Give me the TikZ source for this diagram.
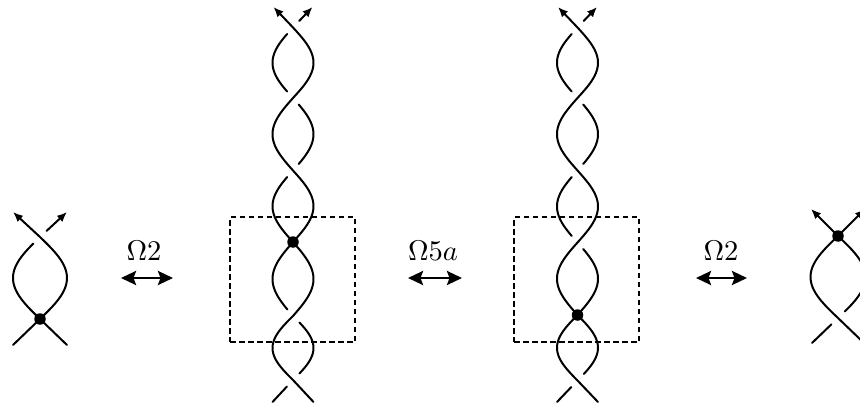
\documentclass[tikz,border=0pt]{standalone}
\usetikzlibrary{arrows.meta}
\tikzset{
  strand/.style={line width=2pt, line cap=round, line join=round},
  tipped/.style={-{Latex[length=10pt,width=8.5pt]}},
  bigarrow/.style={line width=2.6pt, {Stealth[length=15pt,width=14pt,inset=2.5pt]}-{Stealth[length=15pt,width=14pt,inset=2.5pt]}},
  vertex/.style={circle, fill=black, inner sep=0pt, minimum size=11.5pt},
  movebox/.style={draw, line width=1.5pt, dash pattern=on 5.5pt off 3.5pt, minimum width=125pt, minimum height=125pt, inner sep=0pt},
  movelabel/.style={anchor=base, inner sep=0pt}
}
\newcommand\brlobe[6]{%
  \pgfmathsetmacro\brlobeA{#2+#5}%
  \pgfmathsetmacro\brlobeB{#3-#6}%
  \draw[strand] plot[domain=\brlobeA:\brlobeB, samples=30, smooth, variable=\t]
    ({#1+(#4)*sin(180*(\t-#2)/(#3-#2))}, \t);%
}
\newcommand\movetext[1]{\scalebox{2.85}{$#1$}}
\begin{document}
\begin{tikzpicture}[x=1pt, y=-1pt]
\useasboundingbox (0,0) rectangle (860,404);
\clip (0,0) rectangle (860,404);

% ---------- diagram 1 ----------
\coordinate (p1c) at (40,237);
\coordinate (p1d) at (40,319);
\coordinate (p1tl) at (13,212);
\coordinate (p1tr) at (67,212);
\coordinate (p1bl) at (13,345);
\coordinate (p1br) at (67,345);
\brlobe{40}{237}{319}{27}{0}{0}
\brlobe{40}{237}{319}{-27}{6.5}{0}
\draw[strand,tipped] (p1c) -- (p1tl);
\draw[strand,tipped,shorten <=9pt] (p1c) -- (p1tr);
\draw[strand] (p1d) -- (p1bl);
\draw[strand] (p1d) -- (p1br);
\node[vertex] (v1) at (p1d) {};

% ---------- diagram 2 ----------
\node[movebox] (box2) at (292.5,279.5) {};
\coordinate (p2c1) at (293,27.5);
\coordinate (p2c6) at (293,380);
\coordinate (p2d) at (293,242);
\coordinate (p2tl) at (273.5,7);
\coordinate (p2tr) at (312.5,7);
\coordinate (p2bl) at (272.5,402);
\coordinate (p2br) at (313.5,402);
% strand A
\draw[strand,tipped,shorten <=9pt] (p2c1) -- (p2tr);
\brlobe{293}{27.5}{98}{-20.5}{6.5}{6.5}
\brlobe{293}{98}{170.5}{20.5}{6.5}{6.5}
\brlobe{293}{170.5}{242}{-20.5}{6.5}{0}
\brlobe{293}{242}{316}{20.5}{0}{0}
\brlobe{293}{316}{380}{-20.5}{0}{0}
\draw[strand] (p2c6) -- (p2br);
% strand B
\draw[strand,tipped] (p2c1) -- (p2tl);
\brlobe{293}{27.5}{98}{20.5}{0}{0}
\brlobe{293}{98}{170.5}{-20.5}{0}{0}
\brlobe{293}{170.5}{242}{20.5}{0}{0}
\brlobe{293}{242}{316}{-20.5}{0}{6.5}
\brlobe{293}{316}{380}{20.5}{6.5}{6.5}
\draw[strand,shorten <=9pt] (p2c6) -- (p2bl);
\node[vertex] (v2) at (p2d) {};

% ---------- diagram 3 ----------
\node[movebox] (box3) at (576.5,279.5) {};
\coordinate (p3c1) at (577.5,27.5);
\coordinate (p3c6) at (577.5,380.5);
\coordinate (p3d) at (577.5,315);
\coordinate (p3tl) at (558,7);
\coordinate (p3tr) at (597,7);
\coordinate (p3bl) at (557,402);
\coordinate (p3br) at (598,402);
% strand A
\draw[strand,tipped,shorten <=9pt] (p3c1) -- (p3tr);
\brlobe{577.5}{27.5}{98}{-20.5}{6.5}{6.5}
\brlobe{577.5}{98}{170.5}{20.5}{6.5}{6.5}
\brlobe{577.5}{170.5}{242.5}{-20.5}{6.5}{6.5}
\brlobe{577.5}{242.5}{315}{20.5}{6.5}{0}
\brlobe{577.5}{315}{380.5}{-20.5}{0}{0}
\draw[strand] (p3c6) -- (p3br);
% strand B
\draw[strand,tipped] (p3c1) -- (p3tl);
\brlobe{577.5}{27.5}{98}{20.5}{0}{0}
\brlobe{577.5}{98}{170.5}{-20.5}{0}{0}
\brlobe{577.5}{170.5}{242.5}{20.5}{0}{0}
\brlobe{577.5}{242.5}{315}{-20.5}{0}{0}
\brlobe{577.5}{315}{380.5}{20.5}{0}{6.5}
\draw[strand,shorten <=9pt] (p3c6) -- (p3bl);
\node[vertex] (v3) at (p3d) {};

% ---------- diagram 4 ----------
\coordinate (p4d) at (838,236);
\coordinate (p4c) at (838,318);
\coordinate (p4tl) at (811,209);
\coordinate (p4tr) at (865,209);
\coordinate (p4bl) at (812,343);
\coordinate (p4br) at (864,343);
\brlobe{838}{236}{318}{-27.5}{0}{0}
\brlobe{838}{236}{318}{27.5}{0}{6.5}
\draw[strand] (p4c) -- (p4br);
\draw[strand,shorten <=9pt] (p4c) -- (p4bl);
\draw[strand,tipped] (p4d) -- (p4tl);
\draw[strand,tipped] (p4d) -- (p4tr);
\node[vertex] (v4) at (p4d) {};

% ---------- moves ----------
\node[movelabel] (m1) at (144,260) {\movetext{\Omega2}};
\coordinate (m1l) at (121,278);
\coordinate (m1r) at (173,278);
\draw[bigarrow] (m1l) -- (m1r);

\node[movelabel] (m2) at (433,260) {\movetext{\Omega5a}};
\coordinate (m2l) at (408,278);
\coordinate (m2r) at (462,278);
\draw[bigarrow] (m2l) -- (m2r);

\node[movelabel] (m3) at (721,260) {\movetext{\Omega2}};
\coordinate (m3l) at (696,278);
\coordinate (m3r) at (747,278);
\draw[bigarrow] (m3l) -- (m3r);
\end{tikzpicture}
\end{document}
